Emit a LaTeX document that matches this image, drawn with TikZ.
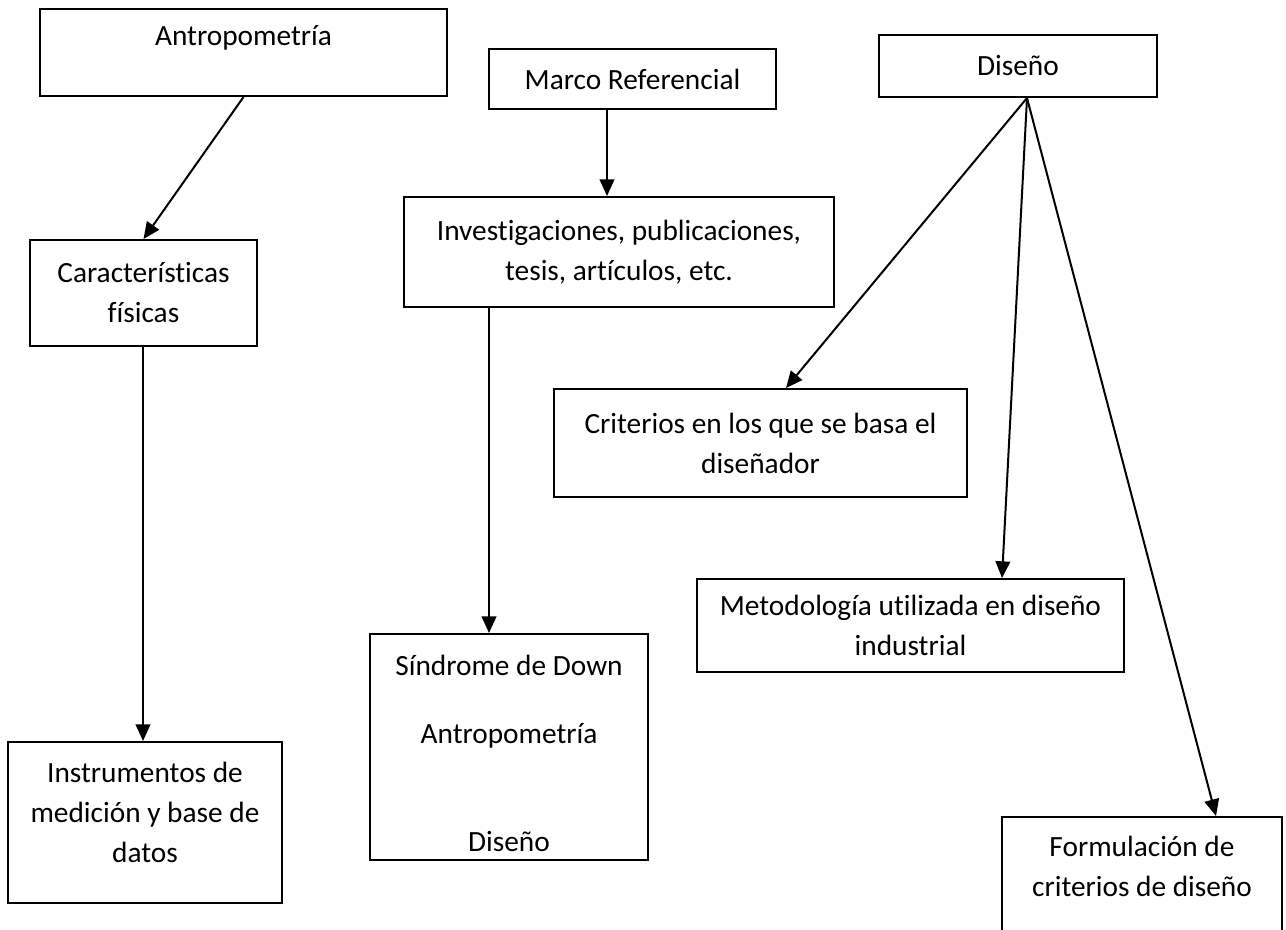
\documentclass[tikz,border=0pt]{standalone}
\usepackage{fontspec}
\setmainfont{Carlito}[Ligatures=NoCommon]
\usetikzlibrary{arrows.meta, positioning, calc}
\tikzset{
  box/.style={rectangle, draw=black, fill=white, align=center,
    inner sep=0pt, line width=1.5pt, font=\fontsize{22}{30}\selectfont},
  arrow/.style={-{Triangle[length=12.5pt, width=11pt]}, line width=1.5pt, color=black}
}

\begin{document}
\begin{tikzpicture}[x=0.75pt, y=-0.75pt]
  \useasboundingbox (0,0) rectangle (1286,929);
  \clip (0,0) rectangle (1286,929);

  % Top row
  \node[box, minimum width=305.25pt, minimum height=65.25pt] (antro) at (243.5,52.5) {Antropometría\\[-5pt]\mbox{}};
  \node[box, minimum width=215.25pt, minimum height=45pt] (marco) at (632.5,79) {Marco Referencial};
  \node[box, minimum width=208.5pt, minimum height=46.5pt] (diseno) at (1018,66) {Diseño};

  % Second row
  \node[box, minimum width=170.25pt, minimum height=79.5pt] (caract) at (143.5,293) {Características\\físicas};
  \node[box, minimum width=322.5pt, minimum height=82.5pt] (invest) at (619,252) {Investigaciones, publicaciones,\\tesis, artículos, etc.};
  \node[box, minimum width=309.75pt, minimum height=81pt] (criter) at (760.5,443) {Criterios en los que se basa el\\diseñador};
  \node[box, minimum width=320.25pt, minimum height=69.75pt] (metodo) at (910.5,625.5) {Metodología utilizada en diseño\\industrial};

  % Bottom row
  \node[box, minimum width=205.5pt, minimum height=120.75pt] (instru) at (145,822.5) {Instrumentos de\\medición y base de\\datos\\[-15pt]\mbox{}};
  \node[box, minimum width=208.5pt, minimum height=169.5pt] (sindro) at (509,747) {\mbox{}\\[-5.5pt]Síndrome de Down\\[21pt]Antropometría\\[51pt]Diseño};
  \node[box, minimum width=210pt, minimum height=103.5pt] (formul) at (1142,886) {Formulación de\\criterios de diseño\\\mbox{}};

  % Connectors
  \draw[arrow] (antro.south) -- (caract.north);
  \draw[arrow] ($(caract.south)+(-0.5,0)$) -- ($(caract.south |- instru.north)+(-0.5,0)$);
  \draw[arrow] ($(marco.south)+(-25.5,0)$) -- ($(invest.north)+(-12,0)$);
  \draw[arrow] ($(invest.south)+(-130,0)$) -- ($(sindro.north)+(-20,0)$);
  \draw[arrow] ($(diseno.south)+(9,0)$) -- ($(criter.north)+(25.5,0)$);
  \draw[arrow] ($(diseno.south)+(9,0)$) -- ($(metodo.north)+(91.5,0)$);
  \draw[arrow] ($(diseno.south)+(9,0)$) -- ($(formul.north)+(74,0)$);
\end{tikzpicture}
\end{document}
